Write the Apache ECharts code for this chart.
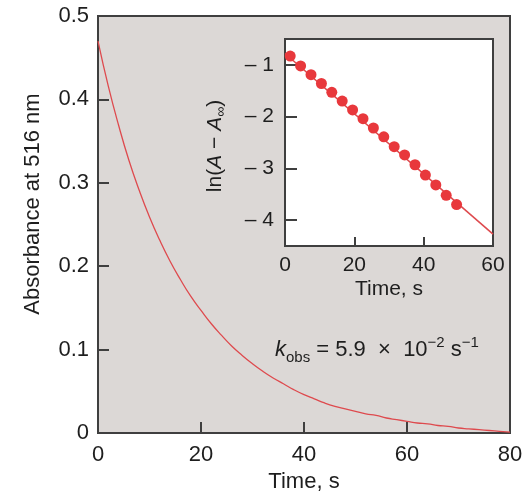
<!DOCTYPE html>
<html>
<head>
<meta charset="utf-8">
<script src="https://cdn.jsdelivr.net/npm/echarts@6/dist/echarts.min.js"></script>
<style>
  html, body { margin: 0; padding: 0; background: #ffffff; }
  #chart { width: 528px; height: 499px; }
</style>
</head>
<body>
<div id="chart"></div>
<script>
// Absorbance decay at 516 nm (main trace)
const mainTime = [0, 2, 4, 6, 8, 10, 12, 14, 16, 18, 20, 22, 24, 26, 28, 30, 32, 34, 36, 38, 40,
  42, 44, 46, 48, 50, 52, 54, 56, 58, 60, 62, 64, 66, 68, 70, 72, 74, 76, 78, 80];
const mainAbs = [0.470, 0.416, 0.369, 0.327, 0.291, 0.259, 0.231, 0.206, 0.184, 0.164, 0.147,
  0.131, 0.117, 0.104, 0.093, 0.083, 0.074, 0.066, 0.059, 0.052, 0.046,
  0.041, 0.036, 0.032, 0.029, 0.026, 0.023, 0.021, 0.018, 0.016, 0.014,
  0.012, 0.011, 0.009, 0.008, 0.006, 0.005, 0.004, 0.003, 0.002, 0.001];

// First-order plot: ln(A - A_inf) vs time
const lnTime = [1.5, 4.5, 7.5, 10.5, 13.5, 16.5, 19.5, 22.5, 25.5, 28.5, 31.5, 34.5, 37.5, 40.5, 43.5, 46.5, 49.5];
const lnValues = [-0.83, -1.02, -1.19, -1.36, -1.53, -1.70, -1.87, -2.04, -2.22, -2.39, -2.58, -2.74, -2.93, -3.13, -3.32, -3.52, -3.70];
const fitTime = [0, 60];
const fitValues = [-0.78, -4.27];

// Tick values
const mainXTicks = [0, 20, 40, 60, 80];
const mainYTicks = [0, 0.1, 0.2, 0.3, 0.4, 0.5];
const insetXTicks = [0, 20, 40, 60];
const insetYTicks = [-4, -3, -2, -1];

const FONT = 'Liberation Sans, Arial, sans-serif';
const INK = '#1e1e1e';
const AXIS = '#3f3f3f';
const RED_LINE = '#de4a4e';
const RED_DOT = '#e8383c';

const pair = (xs, ys) => xs.map((x, i) => [x, ys[i]]);

const chart = echarts.init(document.getElementById('chart'), null, { renderer: 'canvas' });

const axisBase = (fontSize) => ({
  axisLine: { show: true, onZero: false, lineStyle: { color: AXIS, width: 2 } },
  axisTick: { show: true, inside: true, length: 11, lineStyle: { color: AXIS, width: 2 } },
  axisLabel: { color: INK, fontFamily: FONT, fontSize: fontSize },
  splitLine: { show: false }
});

const option = {
  animation: false,
  backgroundColor: '#ffffff',
  grid: [
    { left: 98, top: 16, width: 412, height: 417, show: true,
      backgroundColor: '#dcd8d6', borderColor: AXIS, borderWidth: 2, containLabel: false },
    { left: 285, top: 39, width: 208, height: 207, show: true, z: 5,
      backgroundColor: '#ffffff', borderColor: AXIS, borderWidth: 2, containLabel: false }
  ],
  xAxis: [
    Object.assign(axisBase(22), {
      type: 'value', gridIndex: 0, min: 0, max: 80,
      name: 'Time, s', nameLocation: 'middle', nameGap: 37,
      nameTextStyle: { color: INK, fontFamily: FONT, fontSize: 22 },
      axisLabel: { color: INK, fontFamily: FONT, fontSize: 22, margin: 11, customValues: mainXTicks },
      axisTick: { show: true, inside: true, length: 11, lineStyle: { color: AXIS, width: 2 }, customValues: mainXTicks }
    }),
    Object.assign(axisBase(21), {
      type: 'value', gridIndex: 1, min: 0, max: 60, z: 6,
      name: 'Time, s', nameLocation: 'middle', nameGap: 33,
      nameTextStyle: { color: INK, fontFamily: FONT, fontSize: 21 },
      axisLabel: { color: INK, fontFamily: FONT, fontSize: 21, margin: 9, customValues: insetXTicks },
      axisTick: { show: true, inside: true, length: 9, lineStyle: { color: AXIS, width: 2 }, customValues: insetXTicks }
    })
  ],
  yAxis: [
    Object.assign(axisBase(22), {
      type: 'value', gridIndex: 0, min: 0, max: 0.5,
      axisLabel: { color: INK, fontFamily: FONT, fontSize: 22, margin: 9, customValues: mainYTicks },
      axisTick: { show: true, inside: true, length: 11, lineStyle: { color: AXIS, width: 2 }, customValues: mainYTicks }
    }),
    Object.assign(axisBase(21), {
      type: 'value', gridIndex: 1, min: -4.5, max: -0.5, z: 6,
      axisLabel: { color: INK, fontFamily: FONT, fontSize: 21, margin: 11, customValues: insetYTicks,
        formatter: (v) => '\u2013 ' + Math.abs(v) },
      axisTick: { show: true, inside: true, length: 12, lineStyle: { color: AXIS, width: 2 }, customValues: insetYTicks }
    })
  ],
  series: [
    {
      type: 'line', xAxisIndex: 0, yAxisIndex: 0, data: pair(mainTime, mainAbs),
      smooth: true, showSymbol: false, lineStyle: { color: RED_LINE, width: 1.3 }
    },
    {
      type: 'line', xAxisIndex: 1, yAxisIndex: 1, data: pair(fitTime, fitValues), z: 7,
      showSymbol: false, lineStyle: { color: RED_LINE, width: 1.6 }
    },
    {
      type: 'scatter', xAxisIndex: 1, yAxisIndex: 1, data: pair(lnTime, lnValues), z: 8,
      symbol: 'circle', symbolSize: 11, itemStyle: { color: RED_DOT, opacity: 1 }
    }
  ],
  graphic: [
    {
      type: 'text', x: 33, y: 204, rotation: Math.PI / 2, z: 10,
      style: { text: 'Absorbance at 516 nm', fill: INK, font: '22px ' + FONT,
        align: 'center', verticalAlign: 'middle' }
    },
    {
      type: 'text', x: 215, y: 146, rotation: Math.PI / 2, z: 10,
      style: {
        text: '{n|ln(}{i|A}{n| \u2212 }{i|A}{sub|\u221e}{n|)}',
        align: 'center', verticalAlign: 'middle', fill: INK,
        rich: {
          n: { fontFamily: FONT, fontSize: 21, fill: INK, lineHeight: 26 },
          i: { fontFamily: FONT, fontSize: 21, fontStyle: 'italic', fill: INK, lineHeight: 26 },
          sub: { fontFamily: FONT, fontSize: 14, fill: INK, lineHeight: 26, verticalAlign: 'bottom', padding: [8, 0, 0, 0] }
        }
      }
    },
    {
      type: 'text', x: 275, y: 350, z: 10,
      style: {
        text: '{i|k}{sub|obs}{n| = 5.9  \u00d7  10}{sup|\u22122}{n| s}{sup|\u22121}',
        align: 'left', verticalAlign: 'middle', fill: INK,
        rich: {
          i: { fontFamily: FONT, fontSize: 22, fontStyle: 'italic', fill: INK, lineHeight: 30 },
          n: { fontFamily: FONT, fontSize: 22, fill: INK, lineHeight: 30 },
          sub: { fontFamily: FONT, fontSize: 15, fill: INK, lineHeight: 30, verticalAlign: 'bottom', padding: [10, 0, 0, 0] },
          sup: { fontFamily: FONT, fontSize: 15, fill: INK, lineHeight: 30, verticalAlign: 'top', padding: [0, 0, 8, 0] }
        }
      }
    }
  ]
};

chart.setOption(option);
</script>
</body>
</html>
